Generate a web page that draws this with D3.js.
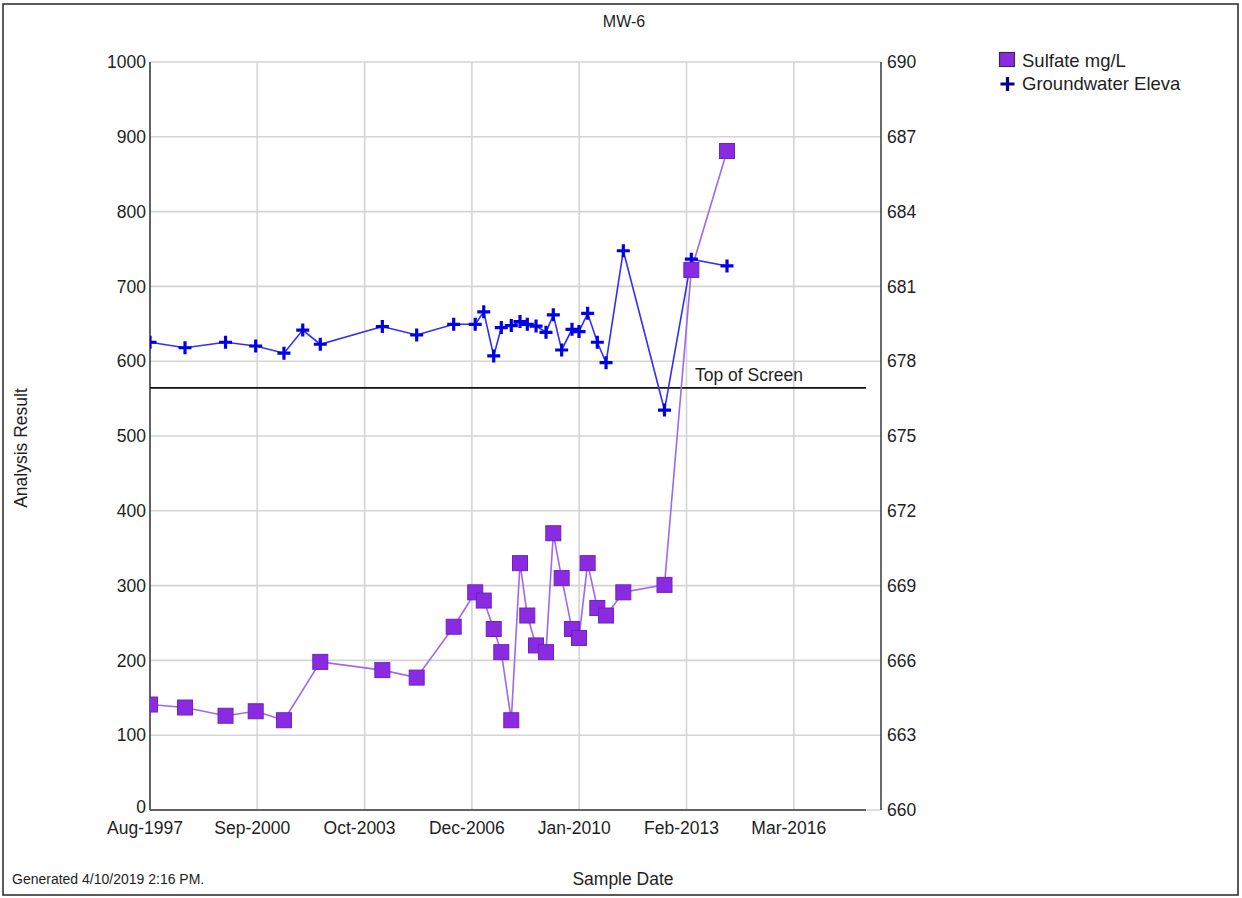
<!DOCTYPE html>
<html>
<head>
<meta charset="utf-8">
<script src="https://cdn.jsdelivr.net/npm/d3@7"></script>
<style>
  html, body { margin: 0; padding: 0; background: #fff; }
  svg text { font-family: "Liberation Sans", Arial, sans-serif; fill: #1e1e1e; }
</style>
</head>
<body>
<svg id="chart" width="1242" height="898"></svg>
<script>
// ---------------- data ----------------
const sampleDates = [
  "1997-08-19","1998-08-23","1999-10-24","2000-09-06","2001-07-01","2002-01-15",
  "2002-07-19","2004-05-03","2005-04-30","2006-05-25","2007-01-07","2007-04-07",
  "2007-07-21","2007-10-09","2008-01-22","2008-04-23","2008-07-09","2008-10-09",
  "2009-01-22","2009-04-09","2009-07-06","2009-10-23","2010-01-05","2010-04-06",
  "2010-07-17","2010-10-17","2011-04-17","2012-06-24","2013-04-03","2014-04-14"
];
const sulfate = [
  141, 137, 126, 132, 120, null,
  198, 187, 177, 245, 291, 280,
  242, 211, 120, 330, 260, 220,
  211, 370, 310, 242, 230, 330,
  270, 260, 291, 301, 722, 881
];
const groundwaterElev = [
  678.76, 678.54, 678.76, 678.61, 678.32, 679.25,
  678.68, 679.39, 679.05, 679.48, 679.48, 679.98,
  678.21, 679.35, 679.43, 679.59, 679.48, 679.41,
  679.16, 679.86, 678.45, 679.28, 679.19, 679.92,
  678.76, 677.94, 682.43, 676.04, 682.09, 681.82
];
const topOfScreen = 676.93;
const xTickDates = ["1997-08-19","2000-09-23","2003-10-29","2006-12-03","2010-01-07","2013-02-11","2016-03-18"];
const xDomain = ["1997-08-19","2018-04-18"];
const leftTicks = [0,100,200,300,400,500,600,700,800,900,1000];
const rightTicks = [660,663,666,669,672,675,678,681,684,687,690];
const seriesNames = ["Sulfate mg/L", "Groundwater Elevation"];
const title = "MW-6";

// ---------------- layout ----------------
const parse = d3.timeParse("%Y-%m-%d");
const fmt = d3.timeFormat("%b-%Y");
const L = 150, R = 866, Rax = 881, T = 62, B = 810;

const svg = d3.select("#chart");
svg.append("rect").attr("x",0).attr("y",0).attr("width",1242).attr("height",898).attr("fill","#fff");
svg.append("rect").attr("x",3).attr("y",4).attr("width",1235).attr("height",891)
   .attr("fill","none").attr("stroke","#333").attr("stroke-width",1.6);

const x = d3.scaleTime().domain(xDomain.map(parse)).range([L, R]);
const yL = d3.scaleLinear().domain([0, 1000]).range([B, T]);
const yR = d3.scaleLinear().domain([660, 690]).range([B, T]);

// grid
const grid = svg.append("g");
grid.selectAll("line.h").data(leftTicks).join("line")
  .attr("x1", L).attr("x2", Rax).attr("y1", d => yL(d)).attr("y2", d => yL(d))
  .attr("stroke", "#d4d4d4").attr("stroke-width", 1.6);
grid.selectAll("line.v").data(xTickDates.slice(1)).join("line")
  .attr("x1", d => x(parse(d))).attr("x2", d => x(parse(d))).attr("y1", T).attr("y2", B)
  .attr("stroke", "#d4d4d4").attr("stroke-width", 1.6);

// axes lines
svg.append("line").attr("x1", L).attr("x2", L).attr("y1", T).attr("y2", B).attr("stroke", "#3a3a3a").attr("stroke-width", 1.6);
svg.append("line").attr("x1", L).attr("x2", R).attr("y1", B).attr("y2", B).attr("stroke", "#3a3a3a").attr("stroke-width", 1.6);
svg.append("line").attr("x1", Rax).attr("x2", Rax).attr("y1", T).attr("y2", B).attr("stroke", "#444").attr("stroke-width", 1.6);

// left tick labels
svg.append("g").selectAll("text").data(leftTicks).join("text")
  .attr("x", 146).attr("y", d => yL(d) - (d === 0 ? 3 : 0)).attr("dy", "0.35em").attr("text-anchor", "end")
  .style("font-size", "17.5px").text(d => d);
// right tick labels
svg.append("g").selectAll("text").data(rightTicks).join("text")
  .attr("x", 887).attr("y", d => yR(d)).attr("dy", "0.35em").attr("text-anchor", "start")
  .style("font-size", "17.5px").text(d => d);
// x tick labels
svg.append("g").selectAll("text").data(xTickDates).join("text")
  .attr("x", d => x(parse(d)) - 5).attr("y", 834).attr("text-anchor", "middle")
  .style("font-size", "17.5px").text(d => fmt(parse(d)));

// top of screen line
svg.append("line").attr("x1", L).attr("x2", R).attr("y1", yR(topOfScreen)).attr("y2", yR(topOfScreen))
  .attr("stroke", "#111").attr("stroke-width", 1.6);
svg.append("text").attr("x", 695).attr("y", yR(topOfScreen) - 7).style("font-size", "17.5px").text("Top of Screen");

// data rows
const rows = sampleDates.map((d, i) => ({ date: parse(d), s: sulfate[i], g: groundwaterElev[i] }));

// clip for plot
svg.append("clipPath").attr("id", "plotclip").append("rect")
  .attr("x", L).attr("y", T - 10).attr("width", Rax - L).attr("height", B - T + 10);
const plot = svg.append("g").attr("clip-path", "url(#plotclip)");

// groundwater series
const gRows = rows.filter(r => r.g != null);
plot.append("path").datum(gRows)
  .attr("fill", "none").attr("stroke", "#2f2ff5").attr("stroke-width", 1.6)
  .attr("d", d3.line().x(r => x(r.date)).y(r => yR(r.g)));

// sulfate series
const sRows = rows.filter(r => r.s != null);
plot.append("path").datum(sRows)
  .attr("fill", "none").attr("stroke", "#a266ee").attr("stroke-width", 1.6)
  .attr("d", d3.line().x(r => x(r.date)).y(r => yL(r.s)));

plot.selectAll("path.cross").data(gRows).join("path")
  .attr("class", "cross")
  .attr("transform", r => `translate(${x(r.date)},${yR(r.g)})`)
  .attr("d", "M-6.5,0H6.5M0,-6.5V6.5")
  .attr("stroke", "#0000e6").attr("stroke-width", 3.2).attr("fill", "none");

plot.selectAll("rect.sq").data(sRows).join("rect")
  .attr("class", "sq")
  .attr("x", r => x(r.date) - 7.5).attr("y", r => yL(r.s) - 7.5)
  .attr("width", 15).attr("height", 15)
  .attr("fill", "#8a2be2").attr("stroke", "#6e22c0").attr("stroke-width", 1);

// title
svg.append("text").attr("x", 624).attr("y", 27).attr("text-anchor", "middle").style("font-size", "16px").text(title);

// axis titles
svg.append("text").attr("transform", "translate(27,448) rotate(-90)").attr("text-anchor", "middle")
  .style("font-size", "17.5px").text("Analysis Result");
svg.append("text").attr("x", 623).attr("y", 885).attr("text-anchor", "middle")
  .style("font-size", "17.5px").text("Sample Date");
svg.append("text").attr("x", 12).attr("y", 884).style("font-size", "14px").text("Generated 4/10/2019 2:16 PM.");

// legend
svg.append("clipPath").attr("id", "legclip").append("rect").attr("x", 990).attr("y", 40).attr("width", 191).attr("height", 70);
const leg = svg.append("g").attr("clip-path", "url(#legclip)");
leg.append("rect").attr("x", 999.5).attr("y", 52.5).attr("width", 15).attr("height", 14)
  .attr("fill", "#8a2be2").attr("stroke", "#333").attr("stroke-width", 1.2);
leg.append("path").attr("transform", "translate(1007.5,84)").attr("d", "M-7,0H7M0,-7V7")
  .attr("stroke", "#00008b").attr("stroke-width", 3.2);
leg.append("text").attr("x", 1022).attr("y", 67).style("font-size", "18.5px").text(seriesNames[0]);
leg.append("text").attr("x", 1022).attr("y", 90).style("font-size", "18.5px").text(seriesNames[1]);
</script>
</body>
</html>
